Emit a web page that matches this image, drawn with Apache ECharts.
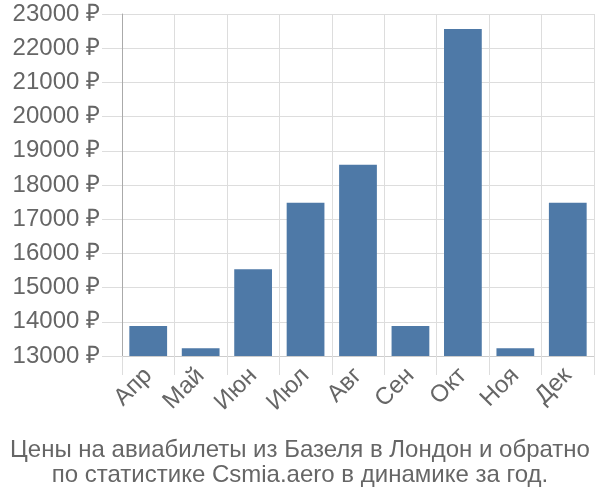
<!DOCTYPE html>
<html>
<head>
<meta charset="utf-8">
<script src="https://cdn.jsdelivr.net/npm/echarts@6/dist/echarts.min.js"></script>
<style>html,body{margin:0;padding:0;background:#fff}#c{width:600px;height:500px}</style>
</head>
<body>
<div id="c"></div>
<script>
var categories = ['Апр','Май','Июн','Июл','Авг','Сен','Окт','Ноя','Дек'];
var prices = [13877, 13224, 15535, 17482, 18594, 13877, 22561, 13224, 17482];
var titleLines = ['Цены на авиабилеты из Базеля в Лондон и обратно', 'по статистике Csmia.aero в динамике за год.'];

var chart = echarts.init(document.getElementById('c'), null, {renderer:'canvas'});
chart.setOption({
  animation: false,
  textStyle: {fontFamily: 'Liberation Sans, Arial, sans-serif'},
  title: {
    text: titleLines.join('\n'),
    left: 'center',
    top: 433,
    textStyle: {color: '#666', fontSize: 24, fontWeight: 'normal', lineHeight: 25, fontFamily: 'Liberation Sans, Arial, sans-serif'}
  },
  grid: {left: 122, right: 6, top: 14, bottom: 144},
  xAxis: {
    type: 'category',
    data: categories,
    axisLine: {lineStyle: {color: '#ccc'}},
    axisTick: {show: true, length: 19, lineStyle: {color: '#ddd'}},
    splitLine: {show: true, lineStyle: {color: '#ddd'}},
    axisLabel: {rotate: 45, color: '#666', fontSize: 24, margin: 16}
  },
  yAxis: {
    type: 'value',
    min: 13000, max: 23000, interval: 1000,
    axisLine: {show: true, lineStyle: {color: '#aaa'}},
    axisTick: {show: true, length: 20, lineStyle: {color: '#ddd'}},
    splitLine: {show: true, lineStyle: {color: '#ddd'}},
    axisLabel: {color: '#666', fontSize: 24, margin: 22, formatter: function (v) { return v + ' ₽'; }}
  },
  series: [{
    type: 'bar',
    data: prices,
    barCategoryGap: '28%',
    itemStyle: {color: '#4e79a7'}
  }]
});
</script>
</body>
</html>
